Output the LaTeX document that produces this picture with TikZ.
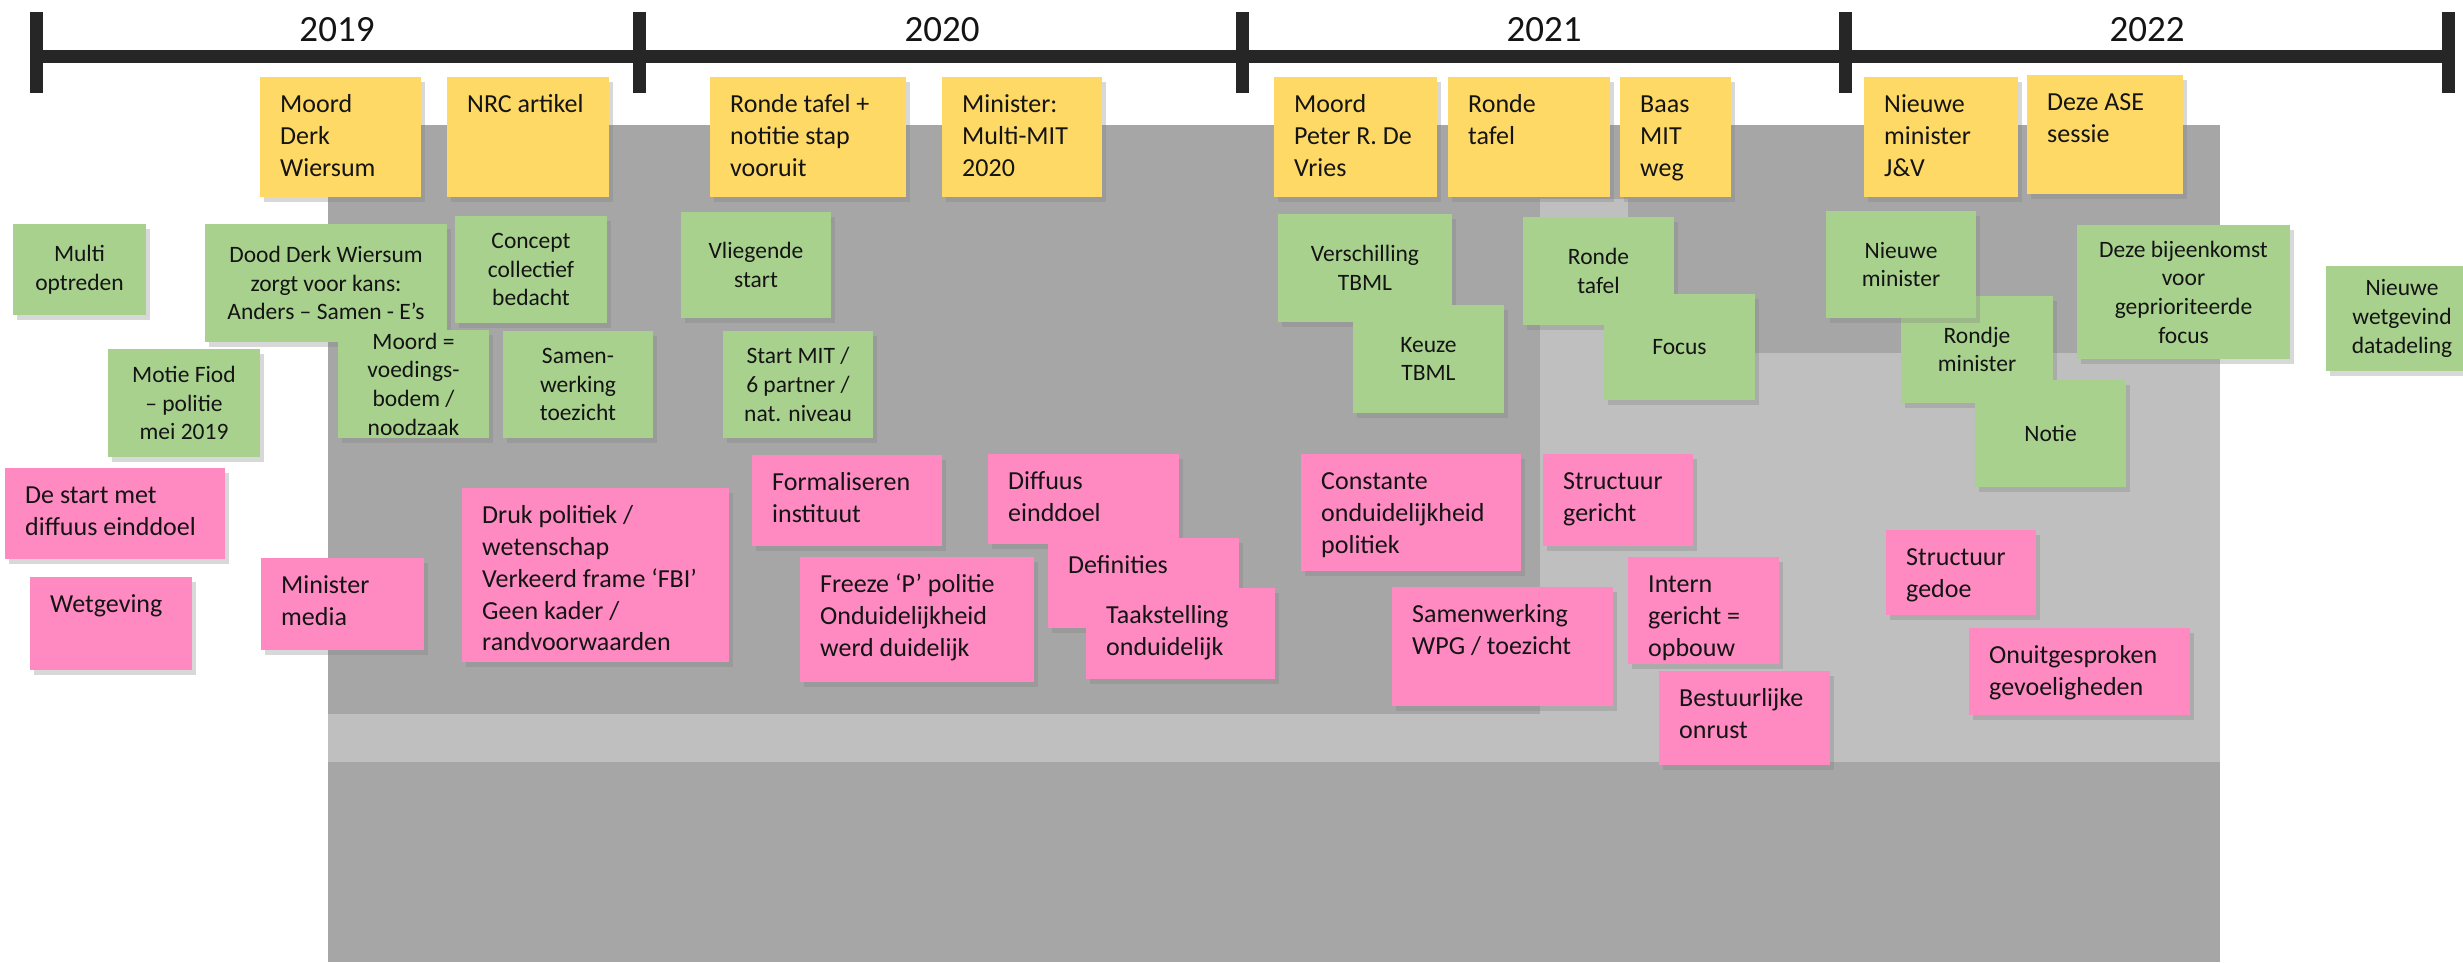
\documentclass[tikz,border=0pt]{standalone}
\usepackage{fontspec}
\setmainfont{Carlito}
\usetikzlibrary{shadows}
\definecolor{ylw}{HTML}{FFD966}
\definecolor{grn}{HTML}{A9D18E}
\definecolor{pnk}{HTML}{FF8AC2}
\definecolor{dgray}{HTML}{A6A6A6}
\definecolor{lgray}{HTML}{BFBFBF}
\definecolor{ink}{HTML}{141414}
\definecolor{barc}{HTML}{262626}
\tikzset{
  notebase/.style={draw=none, inner sep=0pt, outer sep=0pt, anchor=north west,
    drop shadow={opacity=0.30, shadow xshift=4pt, shadow yshift=-5pt}},
  ybox/.style={notebase, fill=ylw},
  gbox/.style={notebase, fill=grn},
  pbox/.style={notebase, fill=pnk},
  ltext/.style={inner sep=0pt, align=left, text=ink, font=\fontsize{26}{31.7}\selectfont},
  ctext/.style={inner sep=0pt, align=center, text=ink, font=\fontsize{23.5}{28.7}\selectfont},
  yeartext/.style={inner sep=0pt, text=ink, font=\fontsize{37}{44}\selectfont},
  tick/.style={draw=barc, line width=13pt},
}
% top-left text note: style, name, x1, y1, x2, y2, text
\newcommand\tlnote[7]{%
  \pgfmathsetmacro\notew{#5-#3}\pgfmathsetmacro\noteh{#6-#4}%
  \node[#1, minimum width=\notew pt, minimum height=\noteh pt] (#2) at (#3,#4) {};
  \node[ltext, anchor=north west] (#2t) at ([shift={(20,13.5)}]#2.north west) {\strut #7};
}
% centred text note
\newcommand\ccnote[7]{%
  \pgfmathsetmacro\notew{#5-#3}\pgfmathsetmacro\noteh{#6-#4}%
  \node[#1, minimum width=\notew pt, minimum height=\noteh pt] (#2) at (#3,#4) {};
  \node[ctext] (#2t) at (#2.center) {#7};
}
\begin{document}
\begin{tikzpicture}[x=1pt,y=-1pt]
\useasboundingbox (0,0) rectangle (2463,962);
\clip (0,0) rectangle (2463,962);
\fill[white] (0,0) rectangle (2463,962);
% background areas
\fill[dgray] (328,125) rectangle (2220,962);
\fill[lgray] (1540,199) rectangle (1628,762);
\fill[lgray] (1540,353) rectangle (2220,762);
\fill[lgray] (328,714) rectangle (2220,762);
% timeline
\coordinate (a0) at (30,56.5);
\coordinate (a4) at (2455,56.5);
\draw[tick] (a0) -- (a4);
\foreach \i/\x in {0/36.5,1/639.5,2/1242.5,3/1845,4/2448}{
  \coordinate (k\i t) at (\x,12);
  \coordinate (k\i b) at (\x,93);
  \draw[tick] (k\i t) -- (k\i b);
}
\node[yeartext] (y2019) at (337,30) {2019};
\node[yeartext] (y2020) at (942,30) {2020};
\node[yeartext] (y2021) at (1544,30) {2021};
\node[yeartext] (y2022) at (2147,30) {2022};
% yellow notes
\tlnote{ybox}{ya}{260}{77}{421}{197}{Moord\\Derk\\Wiersum}
\tlnote{ybox}{yb}{447}{77}{609}{197}{NRC artikel}
\tlnote{ybox}{yc}{710}{77}{906}{197}{Ronde tafel +\\notitie stap\\vooruit}
\tlnote{ybox}{yd}{942}{77}{1102}{197}{Minister:\\Multi-MIT\\2020}
\tlnote{ybox}{ye}{1274}{77}{1437}{197}{Moord\\Peter R. De\\Vries}
\tlnote{ybox}{yf}{1448}{77}{1610}{197}{Ronde\\tafel}
\tlnote{ybox}{yg}{1620}{77}{1731}{197}{Baas\\MIT\\weg}
\tlnote{ybox}{yh}{1864}{77}{2018}{197}{Nieuwe\\minister\\J\&V}
\tlnote{ybox}{yi}{2027}{75}{2183}{194}{Deze ASE\\sessie}
% green notes
\ccnote{gbox}{ga}{13}{224}{146}{315}{Multi\\optreden}
\ccnote{gbox}{gb}{205}{224}{447}{342}{Dood Derk Wiersum\\zorgt voor kans:\\Anders – Samen - E’s}
\ccnote{gbox}{gc}{455}{216}{607}{323}{Concept\\collectief\\bedacht}
\ccnote{gbox}{gd}{108}{349}{260}{457}{Motie Fiod\\– politie\\mei 2019}
\ccnote{gbox}{ge}{338}{330}{489}{438}{Moord =\\voedings-\\bodem /\\noodzaak}
\ccnote{gbox}{gf}{503}{331}{653}{438}{Samen-\\werking\\toezicht}
\ccnote{gbox}{gg}{681}{212}{831}{318}{Vliegende\\start}
\ccnote{gbox}{gh}{723}{331}{873}{438}{Start MIT /\\6 partner /\\nat. niveau}
\ccnote{gbox}{gi}{1278}{214}{1452}{322}{Verschilling\\TBML}
\ccnote{gbox}{gj}{1353}{305}{1504}{413}{Keuze\\TBML}
\ccnote{gbox}{gk}{1523}{217}{1674}{325}{Ronde\\tafel}
\ccnote{gbox}{gl}{1604}{294}{1755}{400}{Focus}
\ccnote{gbox}{gn}{1901}{296}{2053}{403}{Rondje\\minister}
\ccnote{gbox}{gm}{1826}{211}{1976}{318}{Nieuwe\\minister}
\ccnote{gbox}{go}{1975}{380}{2126}{487}{Notie}
\ccnote{gbox}{gp}{2077}{225}{2290}{359}{Deze bijeenkomst\\voor\\geprioriteerde\\focus}
\ccnote{gbox}{gq}{2326}{266}{2478}{371}{Nieuwe\\wetgevind\\datadeling}
% pink notes
\tlnote{pbox}{pa}{5}{468}{225}{559}{De start met\\diffuus einddoel}
\tlnote{pbox}{pb}{30}{577}{192}{670}{Wetgeving}
\tlnote{pbox}{pc}{261}{558}{424}{650}{Minister\\media}
\tlnote{pbox}{pd}{462}{488}{729}{662}{Druk politiek /\\wetenschap\\Verkeerd frame ‘FBI’\\Geen kader /\\randvoorwaarden}
\tlnote{pbox}{pe}{752}{455}{942}{546}{Formaliseren\\instituut}
\tlnote{pbox}{pf}{800}{557}{1034}{682}{Freeze ‘P’ politie\\Onduidelijkheid\\werd duidelijk}
\tlnote{pbox}{pg}{988}{454}{1179}{544}{Diffuus\\einddoel}
\tlnote{pbox}{ph}{1048}{538}{1239}{628}{Definities}
\tlnote{pbox}{pi}{1086}{588}{1275}{679}{Taakstelling\\onduidelijk}
\tlnote{pbox}{pj}{1301}{454}{1521}{571}{Constante\\onduidelijkheid\\politiek}
\tlnote{pbox}{pk}{1392}{587}{1613}{706}{Samenwerking\\WPG / toezicht}
\tlnote{pbox}{pl}{1543}{454}{1693}{546}{Structuur\\gericht}
\tlnote{pbox}{pm}{1628}{557}{1779}{664}{Intern\\gericht =\\opbouw}
\tlnote{pbox}{pn}{1659}{671}{1830}{765}{Bestuurlijke\\onrust}
\tlnote{pbox}{po}{1886}{530}{2036}{615}{Structuur\\gedoe}
\tlnote{pbox}{pp}{1969}{628}{2190}{715}{Onuitgesproken\\gevoeligheden}
\end{tikzpicture}
\end{document}
